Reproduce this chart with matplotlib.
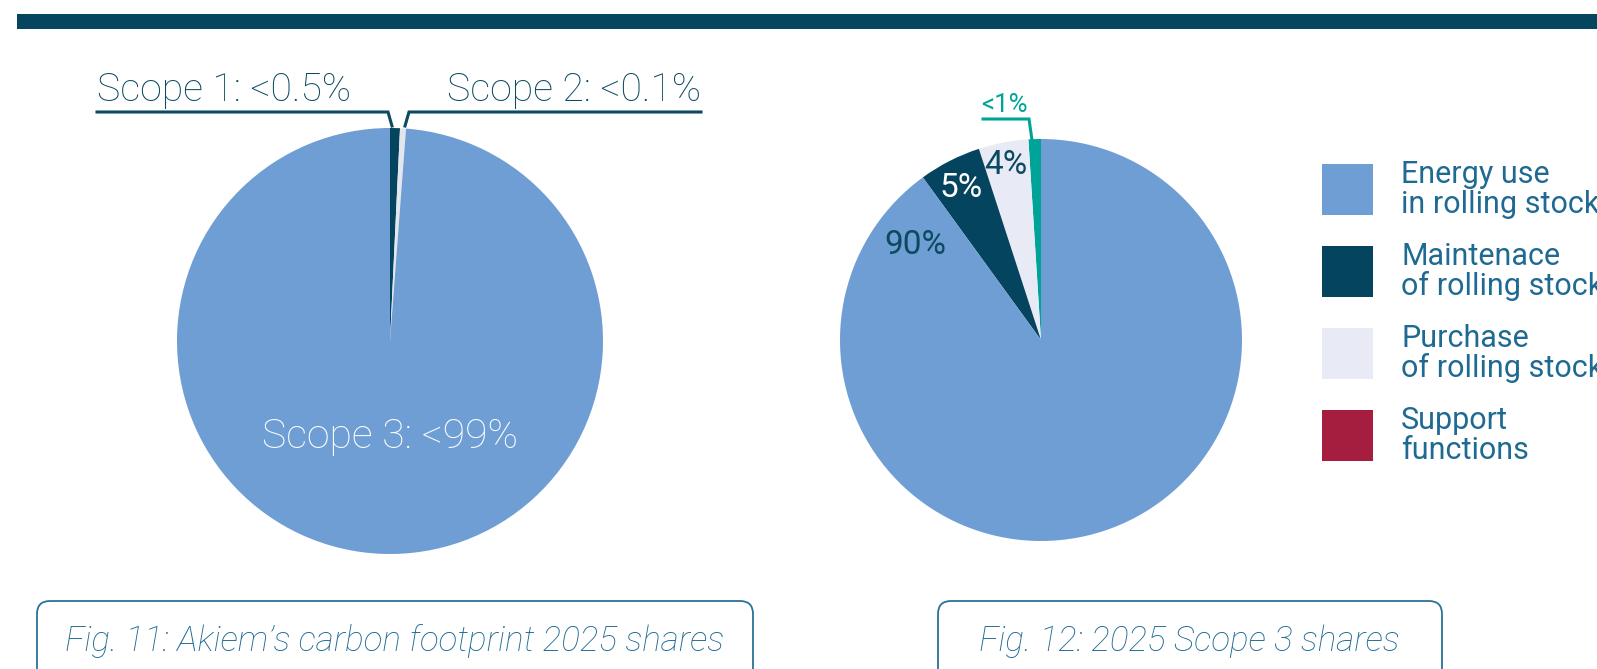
import matplotlib
matplotlib.use("Agg")
import matplotlib.pyplot as plt
from matplotlib.patches import Rectangle, FancyBboxPatch

W, H = 1597, 669

# ---- data ----
scope_labels = ["Scope 1: <0.5%", "Scope 2: <0.1%", "Scope 3: <99%"]
scope_values = [0.75, 0.45, 98.8]
scope_colors = ["#05445E", "#E4E6EE", "#6F9ED4"]

s3_categories = ["Support functions", "Purchase of rolling stock",
                 "Maintenace of rolling stock", "Energy use in rolling stock"]
s3_values = [1, 4, 5, 90]
s3_colors = ["#00A398", "#E8EBF5", "#05445E", "#6F9ED4"]
s3_labels = ["<1%", "4%", "5%", "90%"]

legend_labels = ["Energy use\nin rolling stock", "Maintenace\nof rolling stock",
                 "Purchase\nof rolling stock", "Support\nfunctions"]
legend_colors = ["#6F9ED4", "#05445E", "#E8EBF5", "#A51E3F"]

captions = ["Fig. 11: Akiem\u2019s carbon footprint 2025 shares",
            "Fig. 12: 2025 Scope 3 shares"]

FONT = "Roboto"
DARK = "#0B4A60"
MID = "#1F6A92"


def Y(y):
    return H - y


fig = plt.figure(figsize=(W / 100, H / 100), dpi=100)
ax = fig.add_axes([0, 0, 1, 1])

# ---- left pie ----
ax.pie(scope_values, colors=scope_colors, startangle=90, counterclock=False,
       center=(390, Y(341)), radius=213, wedgeprops=dict(linewidth=0))

# ---- right pie ----
ax.pie(s3_values, colors=s3_colors, startangle=90, counterclock=True,
       center=(1041, Y(340)), radius=201, wedgeprops=dict(linewidth=0))

ax.set_xlim(0, W)
ax.set_ylim(0, H)
ax.set_aspect("equal")
ax.axis("off")

# top bar
ax.add_patch(Rectangle((17, Y(29)), W - 17, 15, color="#05455E", lw=0))

ax.text(97, Y(101), scope_labels[0], fontsize=28.3, family=FONT, weight="light",
        color=DARK, ha="left", va="baseline")
ax.text(701, Y(101), scope_labels[1], fontsize=28.3, family=FONT, weight="light",
        color=DARK, ha="right", va="baseline")
ax.plot([97, 388, 392], [Y(112), Y(112), Y(126)], color=DARK, lw=2.2,
        solid_joinstyle="miter")
ax.plot([701, 409, 405], [Y(112), Y(112), Y(126)], color=DARK, lw=2.2,
        solid_joinstyle="miter")
ax.text(390, Y(448), scope_labels[2], fontsize=29.5, family=FONT, weight="light",
        color="white", ha="center", va="baseline")

ax.text(915, Y(254), s3_labels[3], fontsize=24, family=FONT,
        color=DARK, ha="center", va="baseline")
ax.text(961, Y(197), s3_labels[2], fontsize=24, family=FONT,
        color="white", ha="center", va="baseline")
ax.text(1006, Y(174), s3_labels[1], fontsize=24, family=FONT,
        color=DARK, ha="center", va="baseline")
ax.text(1004, Y(112), s3_labels[0], fontsize=18.5, family=FONT,
        color="#00A398", ha="center", va="baseline")
ax.plot([983, 1029, 1032], [Y(119), Y(119), Y(140)], color="#00A398", lw=2.2,
        solid_joinstyle="miter")

# ---- legend ----
for i, (lab, col) in enumerate(zip(legend_labels, legend_colors)):
    top = 164 + i * 82
    ax.add_patch(Rectangle((1322, Y(top + 51)), 51, 51, color=col, lw=0))
    l1, l2 = lab.split("\n")
    ax.text(1401, Y(top + 19), l1, fontsize=22, family=FONT, color=MID,
            ha="left", va="baseline")
    ax.text(1401, Y(top + 49), l2, fontsize=22, family=FONT, color=MID,
            ha="left", va="baseline")

# ---- caption boxes ----
for (x0, x1, tx, cap) in [(37, 753, 65, captions[0]), (938, 1442, 979, captions[1])]:
    ax.add_patch(FancyBboxPatch((x0, Y(700)), x1 - x0, 99,
                                boxstyle="round,pad=0,rounding_size=13",
                                fc="none", ec="#2C7199", lw=1.3))
    ax.text(tx, Y(651), cap, fontsize=25.2, family=FONT, weight="light",
            style="italic", color=MID, ha="left", va="baseline")

fig.savefig("out.png", dpi=100)
